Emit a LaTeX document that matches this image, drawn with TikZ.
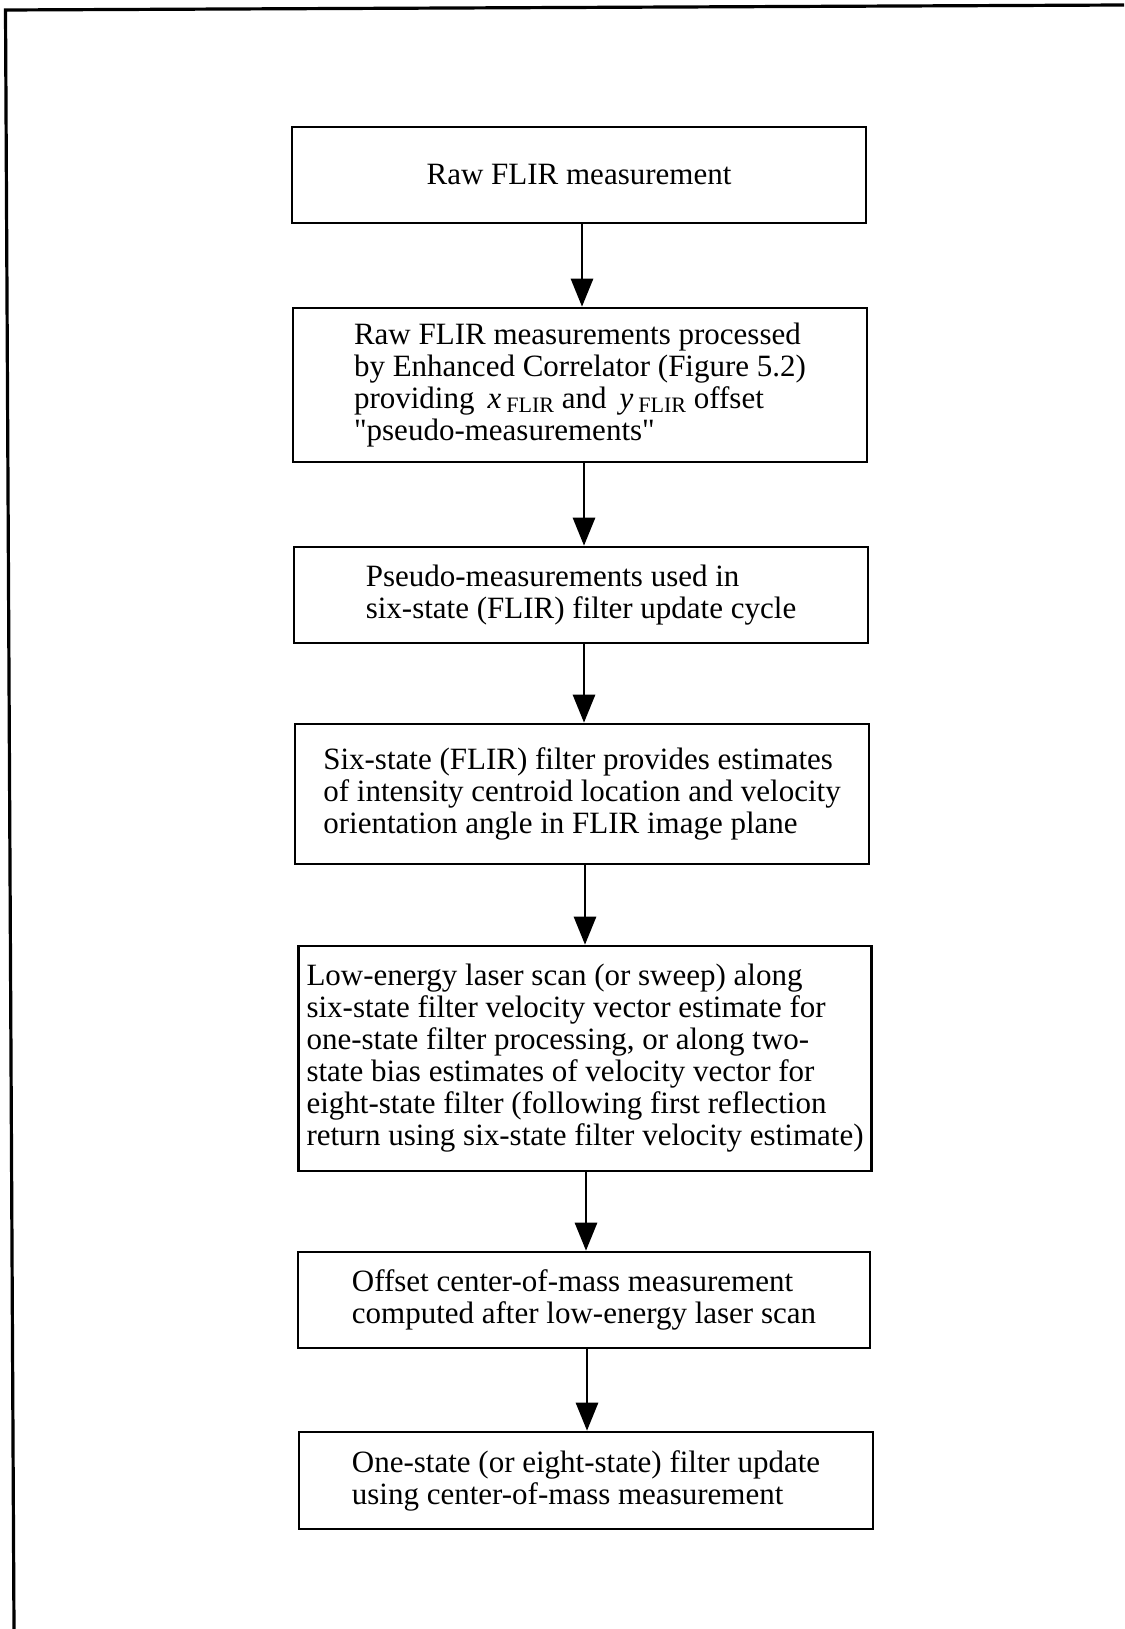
\documentclass[tikz,border=0pt]{standalone}
\usepackage{fontspec}
\setmainfont{Liberation Serif}
\usetikzlibrary{arrows.meta}
\tikzset{
  x=1pt,y=-1pt,
  stage/.style={draw,line width=2.6pt,rectangle,inner sep=0pt,align=left,
    font=\fontsize{31}{32}\selectfont},
  flow/.style={line width=2.8pt,-{Triangle[width=22pt,length=28pt]}},
  frameline/.style={line width=3.2pt}
}
\newcommand{\flirsub}{\raisebox{-0.3ex}{\fontsize{22}{22}\selectfont FLIR}}
\begin{document}
\begin{tikzpicture}
\useasboundingbox (0,0) rectangle (1124,1629);
\coordinate (ftl) at (5.5,10);
\coordinate (ftr) at (1124,5);
\coordinate (fbl) at (14,1629);
\draw[frameline] (ftr) -- (ftl) -- (fbl);

\node[stage,minimum width=574pt,minimum height=96pt] (b1) at (579,175) {Raw FLIR measurement};
\node[stage,minimum width=574pt,minimum height=154pt] (b2) at (580,385)
  {Raw FLIR measurements processed\\
   by Enhanced Correlator (Figure 5.2)\\
   providing \,\textit{x}\,\flirsub\ and \,\textit{y}\,\flirsub\ offset\\
   \textquotedbl pseudo-measurements\textquotedbl};
\node[stage,minimum width=574pt,minimum height=96pt] (b3) at (581,595)
  {Pseudo-measurements used in\\ six-state (FLIR) filter update cycle};
\node[stage,minimum width=574pt,minimum height=140pt] (b4) at (582,794)
  {Six-state (FLIR) filter provides estimates\\
   of intensity centroid location and velocity\\
   orientation angle in FLIR image plane};
\node[stage,minimum width=573pt,minimum height=225pt] (b5) at (585,1058.5)
  {Low-energy laser scan (or sweep) along\\
   six-state filter velocity vector estimate for\\
   one-state filter processing, or along two-\\
   state bias estimates of velocity vector for\\
   eight-state filter (following first reflection\\
   return using six-state filter velocity estimate)};
\node[stage,minimum width=572pt,minimum height=96pt] (b6) at (584,1300)
  {Offset center-of-mass measurement\\ computed after low-energy laser scan};
\node[stage,minimum width=574pt,minimum height=97pt] (b7) at (586,1480.5)
  {One-state (or eight-state) filter update\\ using center-of-mass measurement};

\draw[flow] (b1.south -| 582,0) -- (b2.north -| 582,0);
\draw[flow] (b2.south -| 584,0) -- (b3.north -| 584,0);
\draw[flow] (b3.south -| 584,0) -- (b4.north -| 584,0);
\draw[flow] (b4.south -| 585,0) -- (b5.north -| 585,0);
\draw[flow] (b5.south -| 586,0) -- (b6.north -| 586,0);
\draw[flow] (b6.south -| 587,0) -- (b7.north -| 587,0);
\end{tikzpicture}
\end{document}
